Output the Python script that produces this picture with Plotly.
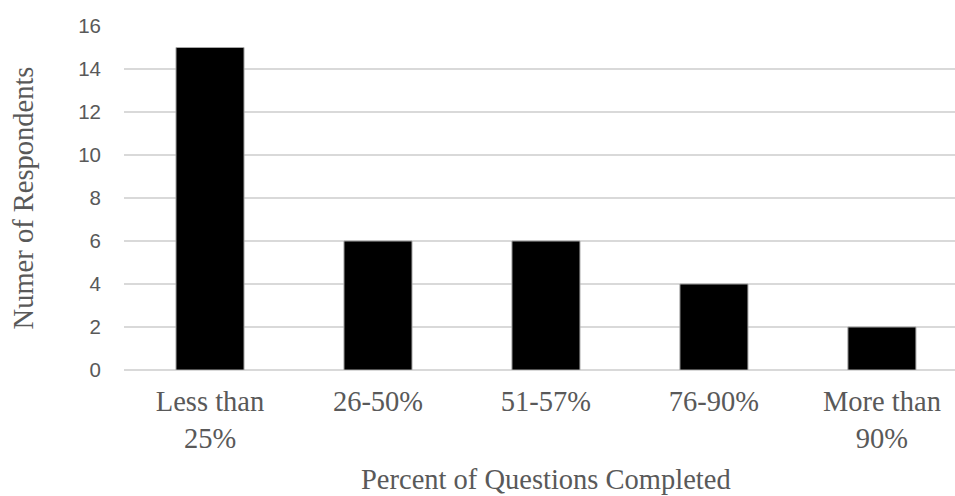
import plotly.graph_objects as go

categories = ["Less than<br>25%", "26-50%", "51-57%", "76-90%", "More than<br>90%"]
respondents = [15, 6, 6, 4, 2]
y_ticks = [0, 2, 4, 6, 8, 10, 12, 14, 16]

fig = go.Figure()
fig.add_trace(go.Bar(
    x=list(range(len(categories))),
    y=respondents,
    marker=dict(color="#000000", line=dict(color="#a6a6a6", width=1)),
    width=0.405,
))

fig.update_layout(
    width=955, height=496,
    margin=dict(l=124, r=0, t=26, b=126),
    paper_bgcolor="white", plot_bgcolor="white",
    showlegend=False,
    font=dict(family="Liberation Serif", color="#595959"),
    xaxis=dict(
        tickmode="array",
        tickvals=list(range(len(categories))),
        ticktext=categories,
        range=[-0.512, 4.435],
        showgrid=False, zeroline=False, showline=False,
        ticks="",
        tickfont=dict(family="Liberation Serif", size=28.5, color="#595959"),
        ticklabelstandoff=11,
    ),
    yaxis=dict(
        range=[0, 16],
        tickmode="array",
        tickvals=y_ticks,
        showgrid=True, gridcolor="#d9d9d9", gridwidth=1.5,
        zeroline=True, zerolinecolor="#d9d9d9", zerolinewidth=1.5,
        showline=False, ticks="",
        tickfont=dict(family="Liberation Sans", size=20.5, color="#595959"),
        ticklabelstandoff=22,
        title=dict(text="Numer of Respondents",
                   font=dict(family="Liberation Serif", size=28.5, color="#595959"),
                   standoff=36),
    ),
    annotations=[dict(
        text="Percent of Questions Completed",
        xref="x", x=2, yref="paper", y=-0.368, xanchor="center", yanchor="bottom",
        showarrow=False,
        font=dict(family="Liberation Serif", size=28.5, color="#595959"),
    )],
)

fig.write_html("out.html")
